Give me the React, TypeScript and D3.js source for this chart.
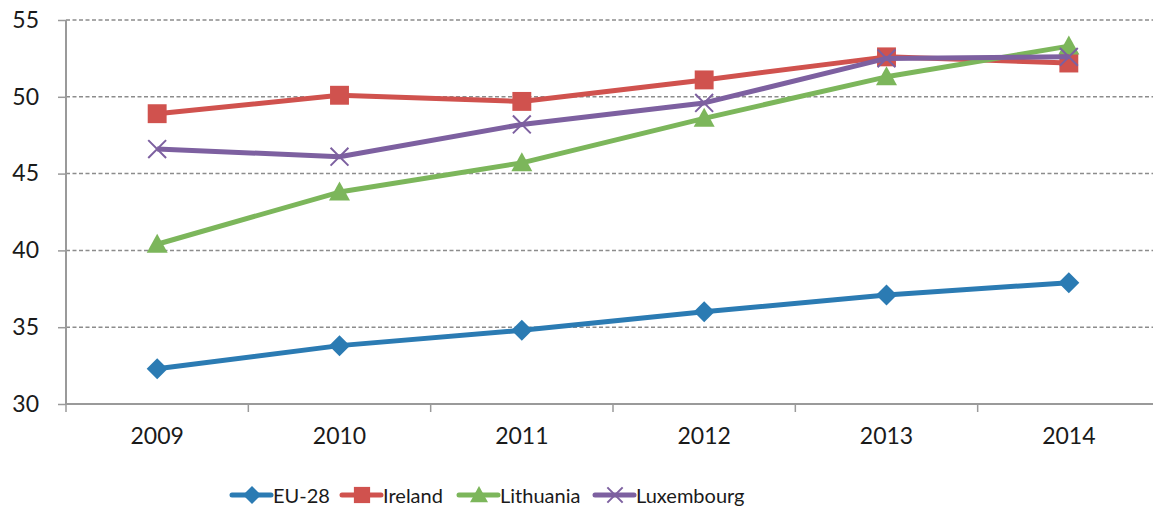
import { useEffect, useRef } from "react";
import * as d3 from "d3";

const years = ["2009", "2010", "2011", "2012", "2013", "2014"];
const eu28 = [32.3, 33.8, 34.8, 36.0, 37.1, 37.9];
const ireland = [48.9, 50.1, 49.7, 51.1, 52.6, 52.2];
const lithuania = [40.4, 43.8, 45.7, 48.6, 51.3, 53.3];
const luxembourg = [46.6, 46.1, 48.2, 49.6, 52.5, 52.6];
const yTicks = [30, 35, 40, 45, 50, 55];

type SeriesType = {
  name: string;
  values: number[];
  color: string;
  marker: "diamond" | "square" | "triangle" | "cross";
};

const series: SeriesType[] = [
  { name: "EU-28", values: eu28, color: "#2b7bb3", marker: "diamond" },
  { name: "Ireland", values: ireland, color: "#d0524e", marker: "square" },
  { name: "Lithuania", values: lithuania, color: "#7cb65b", marker: "triangle" },
  { name: "Luxembourg", values: luxembourg, color: "#7d60a0", marker: "cross" },
];

const App = () => {
  const ref = useRef<SVGSVGElement>(null);

  useEffect(() => {
    draw();
  }, []);

  const draw = () => {
    const width = 1153;
    const height = 508;
    const margin = { top: 20, right: -7, bottom: 104, left: 66 };
    const font = "Lato, 'Open Sans', sans-serif";

    const svg = d3.select(ref.current).attr("width", width).attr("height", height);
    svg.selectAll("*").remove();

    const xScale = d3
      .scaleBand()
      .domain(years)
      .range([margin.left, width - margin.right]);

    const yScale = d3
      .scaleLinear()
      .domain([30, 55])
      .range([height - margin.bottom, margin.top]);

    // gridlines
    svg
      .append("g")
      .selectAll("line")
      .data(yTicks.filter((t) => t > 30))
      .join("line")
      .attr("x1", margin.left)
      .attr("x2", width)
      .attr("y1", (d) => yScale(d))
      .attr("y2", (d) => yScale(d))
      .attr("stroke", "#8c8c8c")
      .attr("stroke-width", 1.5)
      .attr("stroke-dasharray", "4,2.5");

    // y axis
    const yAxis = svg
      .append("g")
      .attr("transform", `translate(${margin.left},0)`)
      .call(d3.axisLeft(yScale).tickValues(yTicks).tickSize(8).tickPadding(19));
    yAxis.selectAll("line").attr("stroke", "#9a9a9a").attr("stroke-width", 1.5);
    yAxis.select(".domain").attr("stroke", "#9a9a9a").attr("stroke-width", 2).attr("d", `M0,${yScale(30)}V${yScale(55)}`);
    yAxis
      .selectAll("text")
      .attr("font-family", font)
      .attr("font-size", 23)
      .attr("fill", "#1a1a1a");

    // x axis
    const xAxis = svg
      .append("g")
      .attr("transform", `translate(0,${yScale(30)})`)
      .call(d3.axisBottom(xScale).tickSize(0).tickPadding(24));
    xAxis.select(".domain").attr("stroke", "#9a9a9a").attr("stroke-width", 2).attr("d", `M${margin.left},0H${width}`);
    xAxis
      .selectAll("text")
      .attr("font-family", font)
      .attr("font-size", 23)
      .attr("fill", "#1a1a1a");
    // category boundary ticks
    svg
      .append("g")
      .selectAll("line")
      .data(years)
      .join("line")
      .attr("x1", (d) => xScale(d)!)
      .attr("x2", (d) => xScale(d)!)
      .attr("y1", yScale(30))
      .attr("y2", yScale(30) + 8)
      .attr("stroke", "#9a9a9a")
      .attr("stroke-width", 1.5);

    const cx = (d: string) => xScale(d)! + xScale.bandwidth() / 2;

    const drawMarker = (g: any, s: SeriesType, x: number, y: number, size: number) => {
      const h = size / 2;
      if (s.marker === "diamond") {
        g.append("path")
          .attr("d", `M${x},${y - h}L${x + h},${y}L${x},${y + h}L${x - h},${y}Z`)
          .attr("fill", s.color);
      } else if (s.marker === "square") {
        g.append("rect")
          .attr("x", x - h * 0.9)
          .attr("y", y - h * 0.9)
          .attr("width", size * 0.9)
          .attr("height", size * 0.9)
          .attr("fill", s.color);
      } else if (s.marker === "triangle") {
        g.append("path")
          .attr("d", `M${x},${y - h}L${x + h},${y + h * 0.8}L${x - h},${y + h * 0.8}Z`)
          .attr("fill", s.color);
      } else {
        const c = h * 0.85;
        g.append("path")
          .attr("d", `M${x - c},${y - c}L${x + c},${y + c}M${x - c},${y + c}L${x + c},${y - c}`)
          .attr("stroke", s.color)
          .attr("stroke-width", 2)
          .attr("fill", "none");
      }
    };

    const line = d3
      .line<number>()
      .x((d, i) => cx(years[i]))
      .y((d) => yScale(d));

    series.forEach((s) => {
      const g = svg.append("g");
      g.append("path")
        .datum(s.values)
        .attr("d", line)
        .attr("fill", "none")
        .attr("stroke", s.color)
        .attr("stroke-width", 5)
        .attr("stroke-linejoin", "round");
      s.values.forEach((v, i) => drawMarker(g, s, cx(years[i]), yScale(v), 21));
    });

    // legend
    const legendX = [232, 342, 459, 595];
    const legendY = 495;
    series.forEach((s, i) => {
      const g = svg.append("g");
      const x0 = legendX[i];
      g.append("line")
        .attr("x1", x0)
        .attr("x2", x0 + 39)
        .attr("y1", legendY)
        .attr("y2", legendY)
        .attr("stroke", s.color)
        .attr("stroke-width", 5)
        .attr("stroke-linecap", "round");
      drawMarker(g, s, x0 + 20, legendY, 18);
      g.append("text")
        .attr("x", x0 + 41)
        .attr("y", legendY + 8)
        .attr("font-family", font)
        .attr("font-size", 20)
        .attr("fill", "#1a1a1a")
        .text(s.name);
    });
  };

  return (
    <div style={{ position: "absolute", left: 0, top: 0 }}>
      <svg ref={ref} style={{ display: "block", background: "#fff" }}></svg>
    </div>
  );
};

export default App;
